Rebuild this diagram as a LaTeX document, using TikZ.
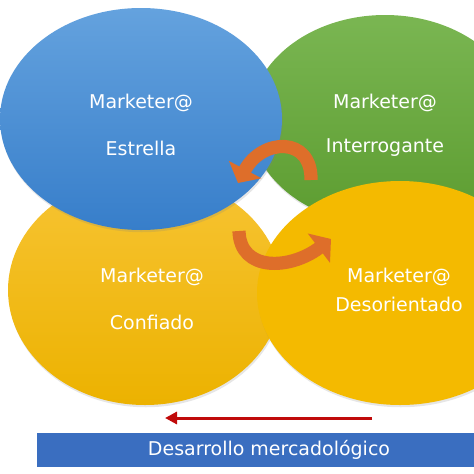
\documentclass[tikz,border=0pt]{standalone}
\usepackage{fontspec}
\setmainfont{DejaVu Sans}
\usepackage{xcolor}
\usetikzlibrary{arrows.meta,shadows}

\definecolor{blueTop}{RGB}{100,162,222}
\definecolor{blueBot}{RGB}{55,126,202}
\definecolor{greenTop}{RGB}{122,182,82}
\definecolor{greenBot}{RGB}{92,156,48}
\definecolor{yellowTop}{RGB}{247,196,52}
\definecolor{yellowBot}{RGB}{236,178,0}
\definecolor{yellowTwo}{RGB}{244,186,0}
\definecolor{swapOrange}{RGB}{222,110,42}
\definecolor{arrowRed}{RGB}{192,10,10}
\definecolor{bannerBlue}{RGB}{58,110,192}

\begin{document}
\begin{tikzpicture}[x=0.025cm,y=-0.025cm]

\tikzset{
	lbl/.style={text=white, font=\fontsize{13.5}{16}\selectfont, inner sep=0pt},
	bubble/.style={drop shadow={opacity=0.2, shadow xshift=0.6pt, shadow yshift=-1.6pt}},
	swap/.style={line width=0.33cm, draw=swapOrange, -{Triangle[length=0.38cm,width=0.9cm]}},
	trend/.style={line width=0.075cm, draw=arrowRed, -{Triangle[length=0.3cm,width=0.3cm]}}
}

\clip (0,0) rectangle (474,474);

% ------------------------------------------------------
% ellipses, back to front

\path[bubble, top color=greenTop, bottom color=greenBot] (385,120) ellipse [x radius=135, y radius=105];

\path[bubble, top color=yellowTop, bottom color=yellowBot] (145,290) ellipse [x radius=137, y radius=115];

\path[bubble, top color=blueTop, bottom color=blueBot] (141,119) ellipse [x radius=141, y radius=111];

\path[bubble, fill=yellowTwo] (400,293) ellipse [x radius=143, y radius=112];

% ------------------------------------------------------
% labels

\node[lbl] (est1) at (141,103) {Marketer@};
\node[lbl] (est2) at (141,148) {Estrella};

\node[lbl] (int1) at (385,103) {Marketer@};
\node[lbl] (int2) at (385,148) {Interrogante};

\node[lbl] (con1) at (152,277) {Marketer@};
\node[lbl] (con2) at (152,322) {Confiado};

\node[lbl] (des1) at (399,277) {Marketer@};
\node[lbl] (des2) at (399,304) {Desorientado};

% ------------------------------------------------------
% curved arrows

\coordinate (upFrom) at (311,180);
\coordinate (upTo) at (238,183);
\draw[swap] (upFrom) .. controls (312,136) and (262,138) .. (upTo);

\coordinate (lowFrom) at (239,231);
\coordinate (lowTo) at (331,239);
\draw[swap] (lowFrom) .. controls (240,272) and (290,270) .. (lowTo);

% ------------------------------------------------------
% bottom

\coordinate (trendFrom) at (372,418);
\coordinate (trendTo) at (165,418);
\draw[trend] (trendFrom) -- (trendTo);

\node[fill=bannerBlue, text=white, font=\fontsize{13.5}{16}\selectfont,
	minimum width=11.6cm, minimum height=0.85cm, inner sep=0pt] (banner) at (269,450) {Desarrollo mercadológico};

\end{tikzpicture}
\end{document}
